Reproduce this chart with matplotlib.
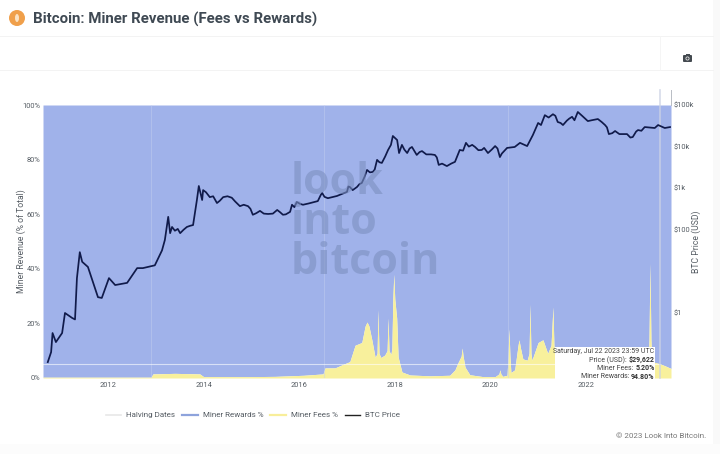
import numpy as np
import matplotlib
matplotlib.use("Agg")
import matplotlib.pyplot as plt
from matplotlib.patches import Circle, Ellipse, FancyBboxPatch, Rectangle

plt.rcParams['font.family'] = ['Roboto', 'DejaVu Sans']

# values, dates as decimal years
price_years = [2010.64, 2010.65, 2010.74, 2010.81, 2010.84, 2010.91, 2011.04, 2011.10, 2011.25, 2011.31,
               2011.35, 2011.41, 2011.46, 2011.58, 2011.69, 2011.79, 2011.87, 2012.02, 2012.15, 2012.40,
               2012.61, 2012.73, 2012.98, 2013.13, 2013.19, 2013.26, 2013.30, 2013.34, 2013.40, 2013.46,
               2013.51, 2013.58, 2013.65, 2013.72, 2013.78, 2013.86, 2013.90, 2013.97, 2013.99, 2014.05,
               2014.13, 2014.20, 2014.28, 2014.34, 2014.41, 2014.50, 2014.59, 2014.66, 2014.76, 2014.84,
               2014.93, 2014.98, 2015.03, 2015.10, 2015.18, 2015.26, 2015.35, 2015.45, 2015.54, 2015.60,
               2015.66, 2015.72, 2015.81, 2015.85, 2015.90, 2015.95, 2016.02, 2016.08, 2016.20, 2016.39,
               2016.45, 2016.48, 2016.53, 2016.60, 2016.79, 2017.00, 2017.03, 2017.06, 2017.12, 2017.21,
               2017.26, 2017.31, 2017.37, 2017.42, 2017.48, 2017.54, 2017.58, 2017.63, 2017.68, 2017.73,
               2017.80, 2017.86, 2017.92, 2017.96, 2018.05, 2018.09, 2018.15, 2018.20, 2018.26, 2018.31,
               2018.36, 2018.42, 2018.46, 2018.52, 2018.57, 2018.66, 2018.76, 2018.84, 2018.88, 2018.92,
               2018.99, 2019.09, 2019.18, 2019.26, 2019.36, 2019.43, 2019.49, 2019.55, 2019.62, 2019.68,
               2019.75, 2019.82, 2019.87, 2019.95, 2020.03, 2020.10, 2020.15, 2020.20, 2020.24, 2020.35,
               2020.51, 2020.62, 2020.77, 2020.89, 2021.00, 2021.06, 2021.14, 2021.22, 2021.31, 2021.36,
               2021.41, 2021.47, 2021.52, 2021.60, 2021.65, 2021.71, 2021.76, 2021.83, 2021.92, 2022.04,
               2022.12, 2022.25, 2022.33, 2022.40, 2022.44, 2022.48, 2022.55, 2022.61, 2022.70, 2022.86,
               2022.93, 2022.98, 2023.05, 2023.09, 2023.16, 2023.23, 2023.44, 2023.51, 2023.65, 2023.76]
btc_price = [0.066, np.nan, 0.066, 0.115, 0.33, 0.20, 0.33, 1.0, 0.76, 0.70,
             6.9, 29, 17, 12.8, 5.3, 2.4, 2.3, 6.9, 4.7, 5.3,
             12, 12, 14, 32, 57, 205, 83, 117, 95, 105,
             83, 100, 117, 125, 130, 520, 1130, 520, 900, 800,
             610, 640, 440, 500, 610, 640, 590, 480, 370, 400,
             370, 320, 230, 250, 285, 245, 240, 245, 300, 265,
             230, 235, 270, 400, 350, 465, 420, 400, 430, 490,
             680, 770, 620, 575, 650, 815, 1100, 1070, 900, 1070,
             1250, 1335, 1900, 2750, 2400, 2460, 2800, 4800, 4200, 4050,
             5800, 8300, 11000, 18000, 14400, 7000, 11000, 8500, 7000, 9000,
             9800, 7500, 6300, 7400, 7800, 6500, 6500, 6300, 5500, 3630,
             3900, 3400, 3900, 4300, 8300, 8000, 12300, 10000, 11000, 9800,
             8200, 8300, 9300, 7000, 8500, 10300, 9000, 5600, 6800, 9300,
             9800, 12300, 10300, 19000, 37000, 33000, 57000, 50000, 60000, 55000,
             39000, 37000, 33000, 42000, 47000, 52000, 43000, 68000, 55000, 41000,
             43000, 46000, 39000, 33000, 29000, 20000, 21000, 23700, 20000, 20000,
             16500, 17000, 23000, 25000, 24000, 29500, 28000, 33000, 28000, 29500]

fee_years = [2010.64, 2012.90, 2012.94, 2013.40, 2013.92, 2014.00, 2015.00, 2015.50, 2016.10, 2016.50,
             2016.54, 2016.75, 2016.92, 2017.06, 2017.17, 2017.31, 2017.38, 2017.42, 2017.46, 2017.52,
             2017.59, 2017.63, 2017.65, 2017.67, 2017.71, 2017.79, 2017.84, 2017.86, 2017.88, 2017.92,
             2017.94, 2017.96, 2017.98, 2018.00, 2018.04, 2018.07, 2018.15, 2018.32,
             2018.74, 2019.15, 2019.26, 2019.32, 2019.39, 2019.41, 2019.43, 2019.47, 2019.57, 2019.85,
             2020.10, 2020.18, 2020.20, 2020.22, 2020.26, 2020.35, 2020.37, 2020.39, 2020.41, 2020.43,
             2020.51, 2020.58, 2020.60, 2020.63, 2020.68, 2020.77, 2020.81, 2020.83, 2020.85, 2020.87,
             2021.00, 2021.10, 2021.20, 2021.27, 2021.31, 2021.33, 2021.35, 2021.60, 2022.50, 2023.20,
             2023.30, 2023.32, 2023.34, 2023.36, 2023.38, 2023.55, 2023.65, 2023.78]
miner_fees = [0.3, 0.3, 1.5, 1.7, 1.5, 0.5, 0.5, 0.6, 1.0, 1.5,
              3.7, 3.7, 5, 6, 12, 13, 19, 20.5, 19, 14,
              7.5, 9, 25, 9, 7.5, 8.4, 10, 22, 10, 8.6,
              11, 29, 38, 29, 22, 7.7, 2.2, 1.1,
              0.8, 1.0, 3, 5.5, 8, 11, 8, 4, 1.2, 0.5,
              0.5, 1.5, 3, 1.5, 0.6, 1.0, 8, 18, 8, 2,
              3, 12, 14, 11, 7, 6.5, 9, 27, 9, 6.5,
              13, 14, 9, 12, 26, 12, 9, 2.5, 1.5, 3,
              4, 14, 42, 14, 6, 5.2, 4.5, 3.5]
miner_rewards = [100 - f for f in miner_fees]

halving_dates = [2012.91, 2016.52, 2020.36]
hover_year = 2023.55
hover_fee = 5.20

pct_ticks = [0, 20, 40, 60, 80, 100]
pct_labels = ['0%', '20%', '40%', '60%', '80%', '100%']
year_ticks = [2012, 2014, 2016, 2018, 2020, 2022]
price_ticks = [1, 100, 1000, 10000, 100000]
price_labels = ['$1', '$100', '$1k', '$10k', '$100k']

BLUE = '#a0b2ea'
YELLOW = '#f8f09c'
W, H = 720, 454
TXT = '#555c63'

fig = plt.figure(figsize=(W / 100, H / 100), dpi=100, facecolor='#ffffff')

# page furniture in pixel coordinates
bg = fig.add_axes([0, 0, 1, 1], zorder=0)
bg.set_xlim(0, W)
bg.set_ylim(H, 0)
bg.axis('off')
bg.add_patch(Rectangle((713, 0), 7, H, color='#f9f9f9', lw=0))
bg.add_patch(Rectangle((0, 444), W, 10, color='#fcfcfc', lw=0))
for yy in (36, 70):
    bg.plot([0, 713], [yy, yy], color='#f3f3f3', lw=0.7)
bg.plot([660, 660], [36, 70], color='#f5f5f5', lw=0.7)
bg.add_patch(Circle((17, 18), 8, color='#f0a04b', lw=0))
# coin mark, the glyph is not in any installed font
bg.add_patch(Ellipse((17, 18), 4, 8, color='#fbe3c4', lw=0))
bg.text(33, 19.5, 'Bitcoin: Miner Revenue (Fees vs Rewards)', color='#3f4953', fontsize=10.8,
        weight='bold', ha='left', va='center')
# camera icon
bg.add_patch(FancyBboxPatch((683, 55), 9, 7, boxstyle='round,pad=0,rounding_size=1', color='#444a50', lw=0))
bg.add_patch(Rectangle((685.5, 53.5), 4, 2, color='#444a50', lw=0))
bg.add_patch(Circle((687.5, 58.5), 2, color='#e8e8e8', lw=0))
bg.add_patch(Circle((687.5, 58.5), 1.2, color='#444a50', lw=0))
bg.text(706, 436, '© 2023 Look Into Bitcoin.', color='#777777', fontsize=5.8, ha='right', va='center')

# main axes
left, right, top, bottom = 43, 671, 105, 378
ax = fig.add_axes([left / W, 1 - bottom / H, (right - left) / W, (bottom - top) / H], zorder=1)
ax.set_xlim(2010.64, 2023.78)
ax.set_ylim(0, 100)
ax.patch.set_alpha(0)

fee_top = np.array(miner_fees)
ax.fill_between(fee_years, fee_top, 100, color=BLUE, lw=0, zorder=1)
ax.fill_between(fee_years, 0, fee_top, color=YELLOW, lw=0, zorder=1.2)

for hd in halving_dates:
    ax.axvline(hd, color='#c5d0f0', lw=0.8, alpha=0.45, zorder=2)
ax.plot([2010.64, hover_year], [hover_fee, hover_fee], color='#ffffff', lw=0.8, alpha=0.6, zorder=2)
ax.plot([hover_year, hover_year], [0, 105.5], color='#ccd3e4', lw=1.2, alpha=0.8, clip_on=False, zorder=2)
ax.plot([2023.78, 2023.78], [100, 105.5], color='#b8bcc4', lw=0.7, clip_on=False, zorder=2)

for s in ax.spines.values():
    s.set_visible(False)
ax.set_yticks(pct_ticks, pct_labels)
ax.set_xticks(year_ticks, [str(y) for y in year_ticks])
ax.tick_params(axis='both', length=0, labelsize=5.4, labelcolor=TXT)
ax.tick_params(axis='y', pad=2)
ax.tick_params(axis='x', pad=3)
ax.set_ylabel('Miner Revenue (% of Total)', fontsize=6.2, color=TXT, labelpad=-3)

# price on its own log axis
ax2 = ax.twinx()
ax2.set_yscale('log')
ax2.set_ylim(10 ** -1.5625, 1e5)
ax2.plot(price_years, btc_price, color='#101a4a', lw=1.25, zorder=5)
for s in ax2.spines.values():
    s.set_visible(False)
ax2.set_yticks(price_ticks, price_labels)
ax2.minorticks_off()
ax2.tick_params(axis='y', length=0, labelsize=5.4, labelcolor=TXT, pad=2)
ax2.set_ylabel('BTC Price (USD)', fontsize=6.2, color=TXT, labelpad=-2)

# overlay: watermark, tooltip, legend
top_ax = fig.add_axes([0, 0, 1, 1], zorder=3)
top_ax.set_xlim(0, W)
top_ax.set_ylim(H, 0)
top_ax.axis('off')
for word, yy in (('look', 182), ('into', 222), ('bitcoin', 262)):
    top_ax.text(291, yy, word, fontsize=31, weight='bold', color='#7c8fc0', alpha=0.6,
                ha='left', va='center', family=['Open Sans', 'DejaVu Sans'], zorder=1)

top_ax.add_patch(Rectangle((555, 347), 100, 33, color='white', lw=0, zorder=2))
tip_rows = [('Saturday, Jul 22 2023 23:59 UTC', ''),
            ('Price (USD): ', '$29,622'),
            ('Miner Fees: ', '5.20%'),
            ('Miner Rewards: ', '94.80%')]
renderer = fig.canvas.get_renderer()
for i, (plain, bold) in enumerate(tip_rows):
    yy = 351.5 + i * 8.5
    x_end = 654.5
    if bold:
        t = top_ax.text(x_end, yy, bold, fontsize=5, weight='bold', color='#333333', ha='right', va='center', zorder=3)
        x_end -= t.get_window_extent(renderer).width
    top_ax.text(x_end, yy, plain, fontsize=5, color='#444444', ha='right', va='center', zorder=3)

h1, = top_ax.plot([], [], color='#e8e8e8', lw=1.2, label='Halving Dates')
h2, = top_ax.plot([], [], color='#8ea3dc', lw=1.6, label='Miner Rewards %')
h3, = top_ax.plot([], [], color='#f8ee9a', lw=1.6, label='Miner Fees %')
h4, = top_ax.plot([], [], color='#222222', lw=1.0, label='BTC Price')
leg = fig.legend(handles=[h1, h2, h3, h4], loc='center', bbox_to_anchor=(253 / W, 1 - 415 / H), ncol=4,
                 frameon=False, fontsize=5.8, handlelength=1.9, handletextpad=0.6, columnspacing=0.9,
                 labelcolor=TXT)

fig.savefig('out.png', dpi=100, facecolor=fig.get_facecolor())
